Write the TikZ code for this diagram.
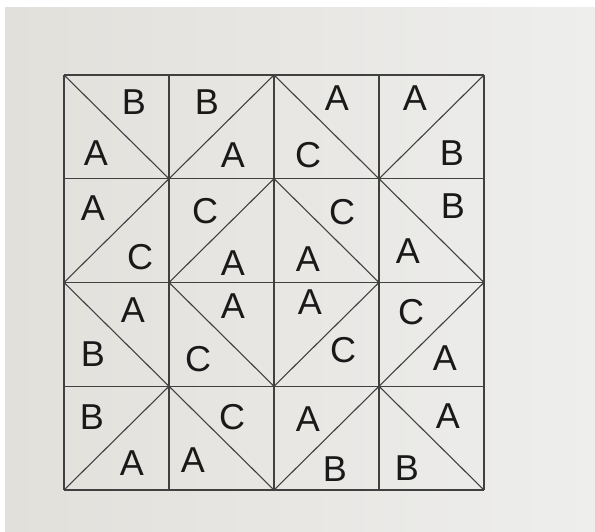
\documentclass[tikz,border=0pt]{standalone}
\usepackage{fontspec}
\setmainfont{Liberation Sans}
\definecolor{paperL}{HTML}{E2E0DB}
\definecolor{paperR}{HTML}{EEEEED}
\begin{document}
\begin{tikzpicture}[x=1pt,y=-1pt,
  gridline/.style={draw=black!75, line width=1.3pt},
  diag/.style={draw=black!75, line width=1.1pt},
  lett/.style={font=\fontsize{36}{36}\selectfont, text=black!90, inner sep=0pt, anchor=center}]
\fill[white] (0,0) rectangle (595,531);
\shade[left color=paperL, right color=paperR] (5,7) rectangle (595,531);
\useasboundingbox (0,0) rectangle (595,531);
\foreach \i in {0,...,4}{
  \foreach \j in {0,...,4}{
    \coordinate (p\i\j) at ({64+105*\i},{75+103.75*\j});
  }
}
% grid
\foreach \k in {0,...,4}{
  \draw[gridline] (p0\k) -- (p4\k);
  \draw[gridline] (p\k0) -- (p\k4);
}
% "\" diagonals (top-left to bottom-right)
\draw[diag] (p00) -- (p11);
\draw[diag] (p20) -- (p31);
\draw[diag] (p21) -- (p32);
\draw[diag] (p31) -- (p42);
\draw[diag] (p02) -- (p13);
\draw[diag] (p12) -- (p23);
\draw[diag] (p13) -- (p24);
\draw[diag] (p33) -- (p44);
% "/" diagonals (bottom-left to top-right)
\draw[diag] (p11) -- (p20);
\draw[diag] (p31) -- (p40);
\draw[diag] (p02) -- (p11);
\draw[diag] (p12) -- (p21);
\draw[diag] (p23) -- (p32);
\draw[diag] (p33) -- (p42);
\draw[diag] (p04) -- (p13);
\draw[diag] (p24) -- (p33);
% row 1
\node[lett] (l11a) at (134,102) {B};
\node[lett] (l11b) at (96,153) {A};
\node[lett] (l12a) at (207,102) {B};
\node[lett] (l12b) at (233,155) {A};
\node[lett] (l13a) at (337,98) {A};
\node[lett] (l13b) at (308,155) {C};
\node[lett] (l14a) at (415,98) {A};
\node[lett] (l14b) at (452,153) {B};
% row 2
\node[lett] (l21a) at (93,208) {A};
\node[lett] (l21b) at (140,257) {C};
\node[lett] (l22a) at (205,211) {C};
\node[lett] (l22b) at (233,263) {A};
\node[lett] (l23a) at (342,212) {C};
\node[lett] (l23b) at (308,259) {A};
\node[lett] (l24a) at (453,206) {B};
\node[lett] (l24b) at (408,251) {A};
% row 3
\node[lett] (l31a) at (133,310) {A};
\node[lett] (l31b) at (93,354) {B};
\node[lett] (l32a) at (233,306) {A};
\node[lett] (l32b) at (198,359) {C};
\node[lett] (l33a) at (310,302) {A};
\node[lett] (l33b) at (343,350) {C};
\node[lett] (l34a) at (411,312) {C};
\node[lett] (l34b) at (445,358) {A};
% row 4
\node[lett] (l41a) at (92,417) {B};
\node[lett] (l41b) at (132,463) {A};
\node[lett] (l42a) at (232,417) {C};
\node[lett] (l42b) at (193,460) {A};
\node[lett] (l43a) at (308,419) {A};
\node[lett] (l43b) at (335,469) {B};
\node[lett] (l44a) at (448,416) {A};
\node[lett] (l44b) at (407,468) {B};
\end{tikzpicture}
\end{document}
